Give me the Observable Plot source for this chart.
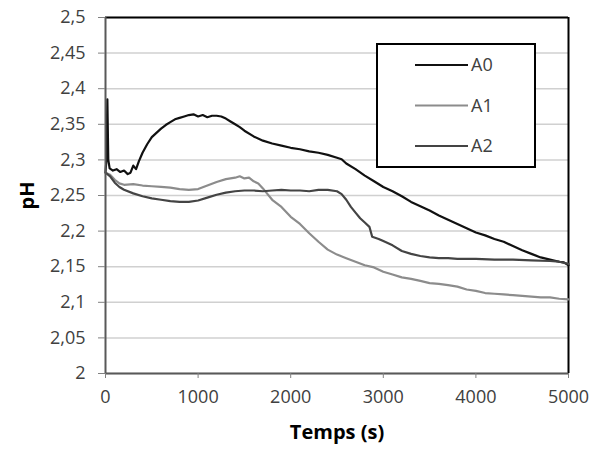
<!DOCTYPE html>
<html>
<head>
<meta charset="utf-8">
<script src="https://cdn.jsdelivr.net/npm/d3@7"></script>
<script src="https://cdn.jsdelivr.net/npm/@observablehq/plot@0.6"></script>
<style>
  body { margin: 0; background: #fff; }
  #chart svg { display: block; }
</style>
</head>
<body>
<div id="chart"></div>
<script>
// ---- Data ----
const seriesNames = ["A0", "A1", "A2"];
const seriesColors = ["#111111", "#8c8c8c", "#444444"];

const a0 = [[0,2.283],[10,2.300],[20,2.385],[30,2.300],[45,2.288],[80,2.285],[120,2.287],[160,2.283],[200,2.285],[240,2.280],[270,2.282],[300,2.292],[330,2.287],[360,2.298],[400,2.310],[450,2.322],[500,2.332],[550,2.338],[600,2.344],[650,2.349],[700,2.353],[750,2.357],[800,2.359],[850,2.361],[900,2.363],[950,2.364],[1000,2.361],[1050,2.363],[1100,2.360],[1150,2.362],[1200,2.362],[1250,2.361],[1300,2.358],[1350,2.354],[1400,2.350],[1450,2.346],[1500,2.341],[1600,2.333],[1700,2.327],[1800,2.323],[1900,2.320],[2000,2.317],[2100,2.315],[2200,2.312],[2300,2.310],[2400,2.307],[2500,2.303],[2550,2.301],[2600,2.295],[2700,2.287],[2800,2.278],[2900,2.270],[3000,2.262],[3100,2.256],[3200,2.249],[3300,2.241],[3400,2.235],[3500,2.229],[3600,2.222],[3700,2.216],[3800,2.210],[3900,2.204],[4000,2.198],[4100,2.194],[4200,2.189],[4300,2.185],[4400,2.179],[4500,2.173],[4600,2.168],[4700,2.163],[4800,2.160],[4900,2.157],[4950,2.156],[5000,2.152]];

const a1 = [[0,2.282],[50,2.279],[100,2.272],[150,2.267],[200,2.265],[300,2.266],[400,2.264],[500,2.263],[600,2.262],[700,2.261],[800,2.259],[900,2.258],[1000,2.259],[1100,2.264],[1200,2.269],[1300,2.273],[1400,2.275],[1450,2.277],[1500,2.274],[1550,2.275],[1600,2.270],[1650,2.267],[1700,2.260],[1750,2.252],[1800,2.244],[1900,2.234],[2000,2.220],[2100,2.210],[2200,2.197],[2300,2.185],[2400,2.174],[2500,2.167],[2600,2.162],[2700,2.157],[2800,2.152],[2900,2.149],[3000,2.143],[3100,2.139],[3200,2.135],[3300,2.133],[3400,2.130],[3500,2.127],[3600,2.126],[3700,2.124],[3800,2.122],[3900,2.118],[4000,2.116],[4100,2.113],[4200,2.112],[4300,2.111],[4400,2.110],[4500,2.109],[4600,2.108],[4700,2.107],[4800,2.107],[4900,2.105],[5000,2.104]];

const a2 = [[0,2.282],[50,2.277],[100,2.268],[150,2.262],[200,2.258],[300,2.253],[400,2.249],[500,2.246],[600,2.244],[700,2.242],[800,2.241],[900,2.241],[1000,2.243],[1100,2.247],[1200,2.251],[1300,2.254],[1400,2.256],[1500,2.257],[1600,2.257],[1700,2.256],[1800,2.257],[1900,2.258],[2000,2.257],[2100,2.257],[2200,2.256],[2300,2.258],[2400,2.258],[2500,2.256],[2550,2.252],[2600,2.244],[2650,2.234],[2700,2.226],[2750,2.218],[2800,2.212],[2850,2.206],[2880,2.192],[2950,2.189],[3000,2.186],[3100,2.180],[3200,2.172],[3300,2.168],[3400,2.165],[3500,2.163],[3600,2.162],[3700,2.162],[3800,2.161],[3900,2.161],[4000,2.161],[4200,2.160],[4400,2.160],[4600,2.159],[4800,2.158],[4900,2.157],[5000,2.154]];

const xTicks = [0, 1000, 2000, 3000, 4000, 5000];
const yTicks = [2, 2.05, 2.1, 2.15, 2.2, 2.25, 2.3, 2.35, 2.4, 2.45, 2.5];
const xTitle = "Temps (s)";
const yTitle = "pH";

// ---- Build table ----
const rows = [];
[a0, a1, a2].forEach((s, i) => s.forEach(([t, v]) => rows.push({series: seriesNames[i], t, v})));

const font = "'Open Sans', 'Noto Sans', sans-serif";
const fmt = d => String(+d.toFixed(2)).replace(".", ",");

const chart = Plot.plot({
  width: 593,
  height: 450,
  marginLeft: 105,
  marginRight: 25,
  marginTop: 17,
  marginBottom: 77,
  style: {fontFamily: font, background: "#fff", color: "#404040"},
  x: {domain: [0, 5000]},
  y: {domain: [2, 2.5]},
  color: {domain: seriesNames, range: seriesColors},
  marks: [
    Plot.gridY(yTicks, {stroke: "#d0d0d0", strokeOpacity: 1, strokeWidth: 1.5}),
    Plot.ruleY([2.5], {stroke: "#000", strokeWidth: 2}),
    Plot.ruleX([5000], {stroke: "#000", strokeWidth: 2}),
    Plot.line(rows, {x: "t", y: "v", z: "series", stroke: "series", strokeWidth: 2.2, curve: "linear"}),
    Plot.ruleX([0], {stroke: "#595959", strokeWidth: 2}),
    Plot.ruleY([2], {stroke: "#595959", strokeWidth: 2}),
    Plot.axisY({ticks: yTicks, tickFormat: fmt, tickSize: 7, tickPadding: 13, fontSize: 18, stroke: "#808080", color: "#404040", label: null}),
    Plot.axisX({ticks: xTicks, tickFormat: d => String(d), tickSize: 5, tickPadding: 12, fontSize: 18, stroke: "#808080", color: "#404040", label: null}),
    Plot.text([yTitle], {frameAnchor: "left", dx: -78, rotate: -90, textAnchor: "middle", fontWeight: "bold", fontSize: 20, fill: "#000"}),
    Plot.text([xTitle], {frameAnchor: "bottom", dy: 65, fontWeight: "bold", fontSize: 20, fill: "#000"})
  ]
});

document.getElementById("chart").appendChild(chart);

// ---- Legend box (drawn into the plot SVG) ----
const svg = d3.select(chart);
const lg = svg.append("g").attr("transform", "translate(377,44)");
lg.append("rect").attr("width", 158).attr("height", 123)
  .attr("fill", "#fff").attr("stroke", "#000").attr("stroke-width", 2);
seriesNames.forEach((name, i) => {
  const yy = 21 + i * 40.5;
  lg.append("line").attr("x1", 38).attr("x2", 91).attr("y1", yy).attr("y2", yy)
    .attr("stroke", seriesColors[i]).attr("stroke-width", 2);
  lg.append("text").attr("x", 94).attr("y", yy).attr("dy", "0.36em")
    .attr("text-anchor", "start")
    .attr("font-family", font).attr("font-size", 18).attr("fill", "#404040").text(name);
});
</script>
</body>
</html>
